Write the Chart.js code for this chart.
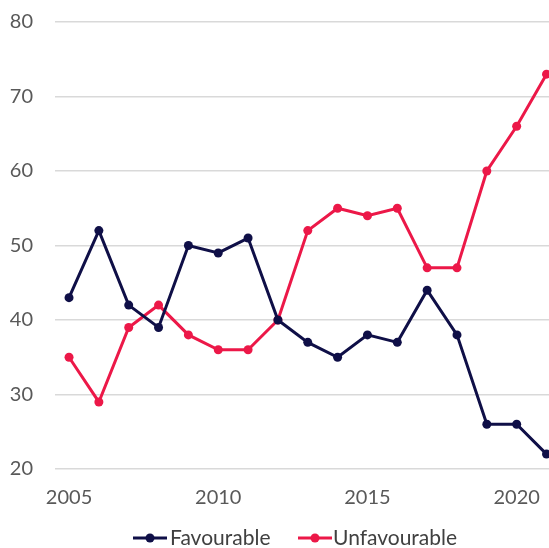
<!DOCTYPE html>
<html><head><meta charset="utf-8">
<script src="https://cdn.jsdelivr.net/npm/chart.js@4"></script>
<style>html,body{margin:0;padding:0;background:#fff;overflow:hidden;width:549px;height:548px}</style>
</head><body>
<canvas id="c" width="554" height="548"></canvas>
<script>
const years = [2005,2006,2007,2008,2009,2010,2011,2012,2013,2014,2015,2016,2017,2018,2019,2020,2021];
const favourable = [43,52,42,39,50,49,51,40,37,35,38,37,44,38,26,26,22];
const unfavourable = [35,29,39,42,38,36,36,40,52,55,54,55,47,47,60,66,73];
const xTicks = [2005,2010,2015,2020];
const yTicks = [20,30,40,50,60,70,80];

const NAVY = '#0f0f47', RED = '#ec1848';
const FONT = 'Lato';

const bottomLegend = {
  id:'bottomLegend',
  afterDraw(chart){
    const g = chart.ctx;
    const y = 538;
    const items = [{x:133, tx:170}, {x:298, tx:333}];
    g.save();
    g.font = '21px ' + FONT;
    g.textBaseline = 'middle';
    chart.data.datasets.forEach((d,i)=>{
      const it = items[i];
      g.strokeStyle = d.borderColor; g.lineWidth = 3;
      g.beginPath(); g.moveTo(it.x, y); g.lineTo(it.x+34, y); g.stroke();
      g.fillStyle = d.borderColor; g.beginPath(); g.arc(it.x+17, y, 4.5, 0, Math.PI*2); g.fill();
      g.fillStyle = '#404040'; g.fillText(d.label, it.tx, y);
    });
    g.restore();
  }
};

new Chart(document.getElementById('c'), {
  type: 'line',
  data: {
    datasets: [
      {label:'Favourable', data: years.map((y,i)=>({x:y,y:favourable[i]})), borderColor:NAVY, backgroundColor:NAVY, borderWidth:3, pointRadius:4.5, pointBackgroundColor:NAVY, pointBorderWidth:0, tension:0, clip:false},
      {label:'Unfavourable', data: years.map((y,i)=>({x:y,y:unfavourable[i]})), borderColor:RED, backgroundColor:RED, borderWidth:3, pointRadius:4.5, pointBackgroundColor:RED, pointBorderWidth:0, tension:0, clip:false}
    ]
  },
  options: {
    responsive:false, animation:false,
    layout:{padding:{top:22,right:0,left:0,bottom:0}},
    plugins:{ tooltip:{enabled:false}, legend:{display:false} },
    scales:{
      x:{type:'linear', min:2004.53, max:2021.1,
        afterBuildTicks:(s)=>{s.ticks = xTicks.map(v=>({value:v}));},
        afterFit:(s)=>{s.height=79; s.paddingLeft=0; s.paddingRight=0;},
        grid:{display:false, drawTicks:false}, border:{display:false},
        ticks:{font:{family:FONT,size:20}, color:'#595959', padding:17, maxRotation:0, callback:(v)=>String(v)}
      },
      y:{min:20,max:80,
        afterBuildTicks:(s)=>{s.ticks = yTicks.map(v=>({value:v}));},
        afterFit:(s)=>{s.width=55; s.paddingTop=0; s.paddingBottom=0;},
        grid:{color:'#d9d9d9', lineWidth:1.5, drawTicks:false}, border:{display:false},
        ticks:{font:{family:FONT,size:20}, color:'#595959', padding:22}
      }
    }
  },
  plugins:[bottomLegend]
});
</script>
</body></html>
